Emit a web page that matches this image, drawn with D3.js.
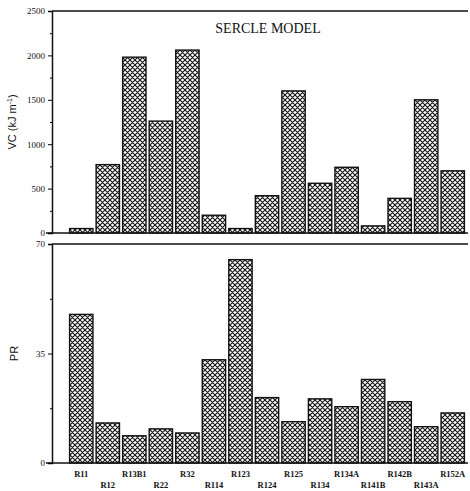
<!DOCTYPE html>
<html>
<head>
<meta charset="utf-8">
<script src="https://cdn.jsdelivr.net/npm/d3@7"></script>
<style>
  body { margin: 0; background: #fff; }
  svg { display: block; }
  text { font-family: "Liberation Serif", "DejaVu Serif", serif; fill: #111; }
</style>
</head>
<body>
<svg id="svg" width="470" height="491"></svg>
<script>
var refrigerants = ["R11", "R12", "R13B1", "R22", "R32", "R114", "R123", "R124",
  "R125", "R134", "R134A", "R141B", "R142B", "R143A", "R152A"]
var vcValues = [50, 770, 1980, 1260, 2060, 200, 50, 420, 1600, 560, 740, 80, 390, 1500, 700]
var prValues = [47.5, 12.8, 8.7, 10.9, 9.6, 33, 65, 20.9, 13.2, 20.5, 18, 26.7, 19.6, 11.6, 16]
var vcTicks = [0, 500, 1000, 1500, 2000, 2500]
var prTicks = [0, 35, 70]

var svg = d3.select("svg")
var left = 52, right = 468

// 斜め格子のハッチング
var pat = svg.append("defs").append("pattern")
  .attr("id", "hatch")
  .attr("patternUnits", "userSpaceOnUse")
  .attr("width", 5).attr("height", 5)
pat.append("rect").attr("width", 5).attr("height", 5).attr("fill", "#fff")
pat.append("path")
  .attr("d", "M-1,1 l2,-2 M0,5 l5,-5 M4,6 l2,-2 M-1,4 l2,2 M0,0 l5,5 M4,-1 l2,2")
  .attr("stroke", "#111").attr("stroke-width", 1.1)

var x = d3.scaleBand()
  .domain(refrigerants)
  .range([68, 466])
  .paddingInner(0.12)
  .paddingOuter(0.06)

function panel(values, yDomain, top, bottom, ticks, minor, label, labelY) {
  var y = d3.scaleLinear().domain(yDomain).range([bottom, top])
  var g = svg.append("g")

  g.selectAll("rect.bar")
    .data(values)
    .enter().append("rect")
    .attr("class", "bar")
    .attr("x", function(d, i) { return x(refrigerants[i]) })
    .attr("width", x.bandwidth())
    .attr("y", function(d) { return y(d) })
    .attr("height", function(d) { return bottom - y(d) })
    .attr("fill", "url(#hatch)")
    .attr("stroke", "#111")
    .attr("stroke-width", 1.4)

  // 枠線
  g.append("line").attr("x1", left).attr("x2", right).attr("y1", top).attr("y2", top)
    .attr("stroke", "#111").attr("stroke-width", 1.5)
  g.append("line").attr("x1", left - 6).attr("x2", right).attr("y1", bottom).attr("y2", bottom)
    .attr("stroke", "#111").attr("stroke-width", 1.5)

  var axis = d3.axisLeft(y).tickValues(ticks).tickSize(4).tickPadding(3).tickFormat(d3.format("d"))
  var ax = g.append("g").attr("transform", "translate(" + left + ",0)").call(axis)
  ax.select(".domain").attr("stroke", "#111").attr("stroke-width", 1.5)
  ax.selectAll("text").style("font-size", "9px").attr("font-family", "Liberation Serif, serif")

  var axm = g.append("g").attr("transform", "translate(" + left + ",0)")
    .call(d3.axisLeft(y).tickValues(minor).tickSize(2).tickFormat(""))
  axm.select(".domain").remove()

  g.append("text")
    .attr("transform", "translate(" + labelY + "," + ((top + bottom) / 2) + ") rotate(-90)")
    .attr("text-anchor", "middle")
    .style("font-size", "11px")
    .style("font-family", "Liberation Sans, Arial, sans-serif")
    .html(label)
  return y
}

panel(vcValues, [0, 2500], 11, 233, vcTicks, [250, 750, 1250, 1750, 2250],
  'VC (kJ m<tspan dy="-4" font-size="7px">-1</tspan><tspan dy="4">)</tspan>', 16)
panel(prValues, [0, 70], 244, 463, prTicks, [17.5, 52.5], "PR", 18)

svg.append("text")
  .attr("x", 268).attr("y", 33)
  .attr("text-anchor", "middle")
  .style("font-size", "14px")
  .text("SERCLE MODEL")

svg.append("g").selectAll("text")
  .data(refrigerants)
  .enter().append("text")
  .attr("x", function(d) { return x(d) + x.bandwidth() / 2 })
  .attr("y", function(d, i) { return i % 2 === 0 ? 477 : 488 })
  .attr("text-anchor", "middle")
  .style("font-size", "8.5px")
  .style("font-weight", "bold")
  .text(function(d) { return d })
</script>
</body>
</html>
